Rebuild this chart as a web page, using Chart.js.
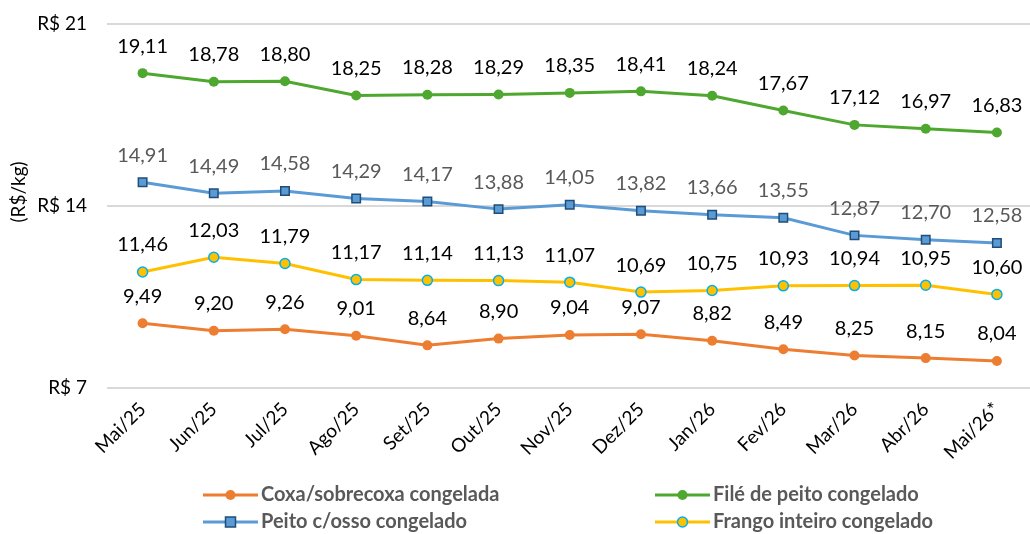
<!DOCTYPE html>
<html>
<head>
<meta charset="utf-8">
<script src="https://cdn.jsdelivr.net/npm/chart.js@4"></script>
<style>
  html, body { margin:0; padding:0; background:#fff; overflow:hidden; }
  #wrap { position:relative; width:1040px; height:534px; }
</style>
</head>
<body>
<div id="wrap"><canvas id="chart"></canvas></div>
<script>
const months = ['Mai/25','Jun/25','Jul/25','Ago/25','Set/25','Out/25','Nov/25','Dez/25','Jan/26','Fev/26','Mar/26','Abr/26','Mai/26*'];
const coxa   = [9.49, 9.20, 9.26, 9.01, 8.64, 8.90, 9.04, 9.07, 8.82, 8.49, 8.25, 8.15, 8.04];
const file   = [19.11, 18.78, 18.80, 18.25, 18.28, 18.29, 18.35, 18.41, 18.24, 17.67, 17.12, 16.97, 16.83];
const peito  = [14.91, 14.49, 14.58, 14.29, 14.17, 13.88, 14.05, 13.82, 13.66, 13.55, 12.87, 12.70, 12.58];
const frango = [11.46, 12.03, 11.79, 11.17, 11.14, 11.13, 11.07, 10.69, 10.75, 10.93, 10.94, 10.95, 10.60];
const yTicks = [7, 14, 21];

const FONT = 'Lato, "Open Sans", sans-serif';
const fmt = v => v.toFixed(2).replace('.', ',');

// value labels above every point
const valueLabels = {
  id: 'valueLabels',
  afterDatasetsDraw(chart){
    const ctx = chart.ctx;
    chart.data.datasets.forEach((ds, i) => {
      const meta = chart.getDatasetMeta(i);
      ctx.save();
      ctx.font = '20px ' + FONT;
      ctx.fillStyle = ds.labelColor;
      ctx.textAlign = 'center';
      ctx.textBaseline = 'middle';
      meta.data.forEach((pt, j) => ctx.fillText(fmt(ds.data[j]), pt.x, pt.y - 27));
      ctx.restore();
    });
  }
};

// y title + two-column legend under the axis
const extras = {
  id: 'extras',
  afterDraw(chart){
    const ctx = chart.ctx;
    ctx.save();
    ctx.translate(19, 192); ctx.rotate(-Math.PI / 2);
    ctx.font = '19px ' + FONT; ctx.fillStyle = '#000';
    ctx.textAlign = 'center'; ctx.textBaseline = 'middle';
    ctx.fillText('(R$/kg)', 0, 0);
    ctx.restore();

    const cols = [203, 655], rows = [495, 522];
    chart.data.datasets.forEach((ds, i) => {
      const x = cols[i % 2], y = rows[Math.floor(i / 2)];
      ctx.save();
      ctx.strokeStyle = ds.borderColor; ctx.lineWidth = 3;
      ctx.beginPath(); ctx.moveTo(x, y); ctx.lineTo(x + 55, y); ctx.stroke();
      ctx.fillStyle = ds.pointBackgroundColor; ctx.strokeStyle = ds.pointBorderColor; ctx.lineWidth = ds.pointBorderWidth;
      ctx.beginPath();
      if (ds.pointStyle === 'rect') ctx.rect(x + 27.5 - 5, y - 5, 10, 10);
      else ctx.arc(x + 27.5, y, 5, 0, Math.PI * 2);
      ctx.fill(); if (ds.pointBorderWidth) ctx.stroke();
      ctx.font = 'bold 20px ' + FONT;
      ctx.fillStyle = '#595959';
      ctx.textAlign = 'left'; ctx.textBaseline = 'middle';
      ctx.fillText(ds.label, x + 58, y);
      ctx.restore();
    });
  }
};

function series(label, data, color, opts){
  return Object.assign({
    label, data,
    borderColor: color, backgroundColor: color,
    borderWidth: 3, tension: 0,
    pointStyle: 'circle', pointRadius: 5, pointBorderWidth: 0,
    pointBackgroundColor: color, pointBorderColor: color,
    labelColor: '#000'
  }, opts || {});
}

new Chart(document.getElementById('chart'), {
  type: 'line',
  data: {
    labels: months,
    datasets: [
      series('Coxa/sobrecoxa congelada', coxa, '#ED7D31'),
      series('Filé de peito congelado', file, '#4EA72E'),
      series('Peito c/osso congelado', peito, '#5B9BD5', {
        pointStyle: 'rect', pointRadius: 6, pointBorderWidth: 1.5,
        pointBorderColor: '#1F4E79', labelColor: '#595959'
      }),
      series('Frango inteiro congelado', frango, '#FFC000', {
        pointBorderWidth: 1.5, pointBorderColor: '#00B0F0'
      })
    ]
  },
  options: {
    responsive: true,
    maintainAspectRatio: false,
    animation: false,
    layout: { padding: { top: 24, right: 2, left: 0, bottom: 0 } },
    plugins: { legend: { display: false }, tooltip: { enabled: false } },
    scales: {
      x: {
        offset: true,
        grid: { display: false, drawTicks: false },
        border: { display: false },
        ticks: { color: '#000', font: { family: FONT, size: 19 }, minRotation: 45, maxRotation: 45, padding: 10 },
        afterFit(scale){ scale.height = 146; }
      },
      y: {
        min: 7, max: 21,
        afterBuildTicks(scale){ scale.ticks = yTicks.map(v => ({ value: v })); },
        grid: { color: '#D9D9D9', lineWidth: 2, drawTicks: false },
        border: { display: false },
        ticks: { color: '#000', font: { family: FONT, size: 19 }, padding: 20, callback: v => 'R$ ' + v },
        afterFit(scale){ scale.width = 107; scale.paddingTop = 0; scale.paddingBottom = 0; }
      }
    }
  },
  plugins: [valueLabels, extras]
});
</script>
</body>
</html>
